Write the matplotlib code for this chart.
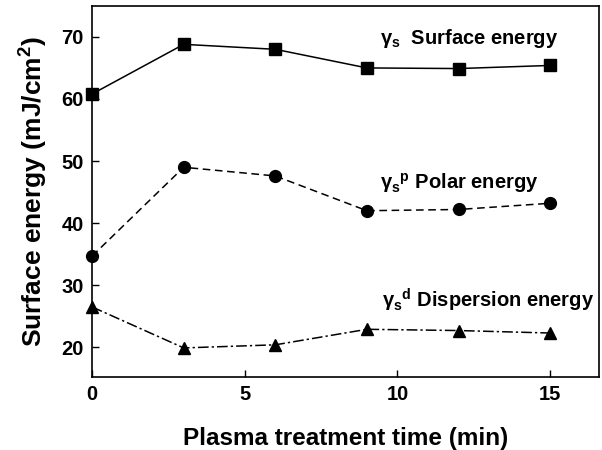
import matplotlib
matplotlib.use("Agg")
import matplotlib.pyplot as plt

plt.rcParams['font.family'] = ['Liberation Sans', 'DejaVu Sans']
plt.rcParams['font.weight'] = 'bold'

time_min = [0, 3, 6, 9, 12, 15]
surface = [60.8, 68.8, 68.0, 65.0, 64.9, 65.4]
polar = [34.7, 49.0, 47.6, 42.0, 42.2, 43.2]
dispersion = [26.5, 19.9, 20.4, 22.9, 22.7, 22.3]

fig = plt.figure(figsize=(6.02, 4.5), dpi=100)
ax = fig.add_axes([0.153, 0.162, 0.842, 0.825])

ax.plot(time_min, surface, color='black', linestyle='-', linewidth=1.1,
        marker='s', markersize=8, clip_on=False)
ax.plot(time_min, polar, color='black', linestyle=(0, (5, 3)), linewidth=1.1,
        marker='o', markersize=8.5, clip_on=False)
ax.plot(time_min, dispersion, color='black', linestyle=(0, (7, 2, 1.5, 2)), linewidth=1.1,
        marker='^', markersize=9, clip_on=False)

ax.set_xlim(0, 16.6)
ax.set_ylim(15.2, 75)
ax.set_xticks([0, 5, 10, 15])
ax.set_yticks([20, 30, 40, 50, 60, 70])
ax.tick_params(direction='in', length=5, width=1, labelsize=14.5, pad=6)
for lbl in ax.get_xticklabels() + ax.get_yticklabels():
    lbl.set_fontweight('bold')
for s in ax.spines.values():
    s.set_linewidth(1.2)

ax.set_xlabel('Plasma treatment time (min)', fontsize=17.5, fontweight='bold', labelpad=16)
ax.set_ylabel('Surface energy (mJ/cm$^\\mathregular{2}$)', fontsize=19, fontweight='bold', labelpad=9)

ax.text(9.44, 68.9, 'γ$_\\mathregular{s}$  Surface energy', fontsize=14.5, fontweight='bold', va='baseline')
ax.text(9.44, 45.5, 'γ$_\\mathregular{s}$$^\\mathregular{p}$ Polar energy', fontsize=14.5, fontweight='bold', va='baseline')
ax.text(9.5, 26.4, 'γ$_\\mathregular{s}$$^\\mathregular{d}$ Dispersion energy', fontsize=14.5, fontweight='bold', va='baseline')

fig.savefig('out.png', dpi=100)
